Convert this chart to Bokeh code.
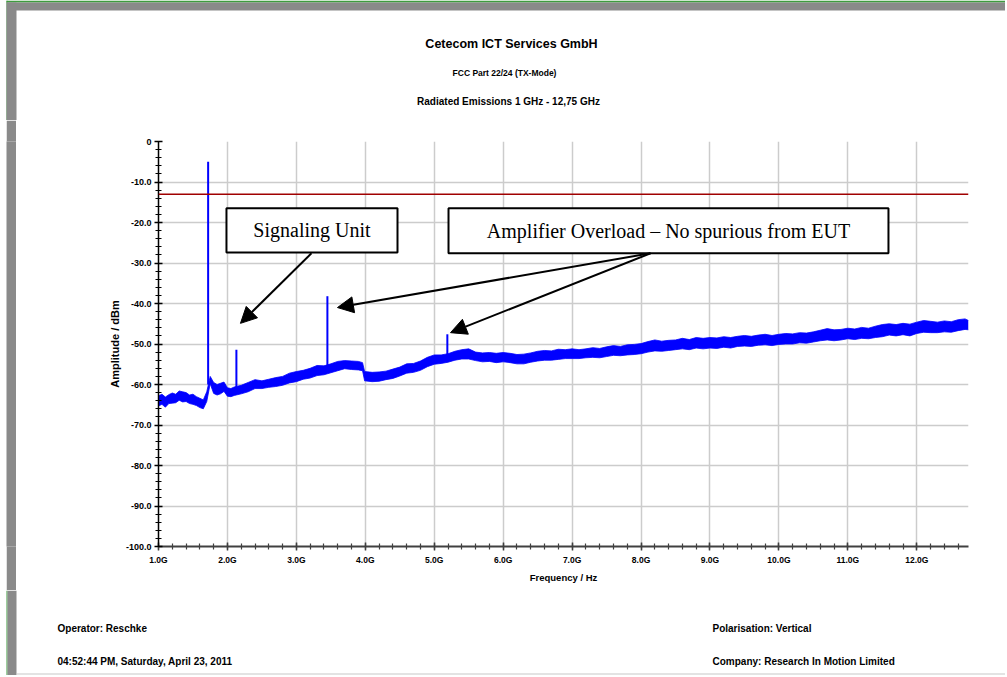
from bokeh.plotting import figure
from bokeh.layouts import column, row
from bokeh.models import (Range1d, SingleIntervalTicker, Span, Arrow, NormalHead, ColumnDataSource)
from bokeh.core.properties import value
from bokeh.embed import file_html
from bokeh.resources import INLINE

# ---------------- data ----------------
freq_ghz = [1.00, 1.05, 1.10, 1.15, 1.20, 1.25, 1.30, 1.35, 1.40, 1.45, 1.50, 1.55, 1.60, 1.65, 1.70,
            1.75, 1.80, 1.85, 1.90, 1.95, 2.00, 2.05, 2.10, 2.20, 2.30, 2.40, 2.50, 2.60, 2.70, 2.80,
            2.90, 3.00, 3.10, 3.20, 3.30, 3.40, 3.50, 3.60, 3.70, 3.80, 3.90, 3.96, 3.99, 4.10, 4.20,
            4.30, 4.40, 4.50, 4.60, 4.70, 4.80, 4.90, 5.00, 5.10, 5.20, 5.30, 5.40, 5.50, 5.60, 5.70,
            5.80, 5.90, 6.00, 6.10, 6.20, 6.30, 6.40, 6.50, 6.60, 6.70, 6.80, 6.90, 7.00, 7.10, 7.20,
            7.30, 7.40, 7.50, 7.60, 7.70, 7.80, 7.90, 8.00, 8.10, 8.20, 8.30, 8.40, 8.50, 8.60, 8.70,
            8.80, 8.90, 9.00, 9.10, 9.20, 9.30, 9.40, 9.50, 9.60, 9.70, 9.80, 9.90, 10.00, 10.10, 10.20,
            10.30, 10.40, 10.50, 10.60, 10.70, 10.80, 10.90, 11.00, 11.10, 11.20, 11.30, 11.40, 11.50,
            11.60, 11.70, 11.80, 11.90, 12.00, 12.10, 12.20, 12.30, 12.40, 12.50, 12.60, 12.70, 12.75]

level_hi = [-62.8, -62.4, -63.1, -62.5, -62.1, -62.4, -61.6, -61.8, -62.0, -62.6, -62.4, -63.0, -63.4, -63.8, -61.8,
            -58.0, -59.5, -60.0, -59.7, -59.4, -60.8, -61.0, -60.6, -60.2, -59.5, -58.8, -59.1, -58.7, -58.3, -58.0,
            -57.2, -56.8, -56.5, -56.0, -55.3, -55.4, -54.9, -54.3, -54.1, -54.2, -54.3, -54.6, -56.8, -57.0, -56.9,
            -56.7, -56.2, -55.7, -54.9, -54.8, -54.2, -53.3, -52.7, -52.7, -52.4, -51.8, -51.4, -51.2, -52.0, -52.2,
            -52.1, -52.3, -52.1, -52.3, -52.6, -52.5, -52.2, -51.8, -51.6, -51.7, -51.3, -51.4, -51.2, -51.4, -51.2,
            -50.9, -51.1, -50.7, -50.4, -50.6, -50.2, -50.1, -49.9, -49.4, -49.0, -49.3, -49.1, -49.0, -48.6, -48.9,
            -48.4, -48.6, -48.4, -48.5, -48.2, -48.4, -48.1, -47.9, -48.1, -47.8, -47.6, -47.9, -47.6, -47.4, -47.5,
            -47.2, -47.3, -47.0, -46.6, -46.2, -46.5, -46.4, -46.1, -46.3, -45.9, -46.1, -45.6, -45.2,
            -45.0, -45.2, -44.9, -45.1, -44.6, -44.2, -44.4, -44.6, -44.3, -44.5, -44.0, -43.8, -44.2]

level_lo = [-65.3, -64.9, -65.6, -64.7, -64.6, -64.5, -63.9, -64.3, -64.2, -64.7, -64.9, -65.2, -65.7, -66.0, -64.2,
            -59.8, -62.2, -62.6, -62.3, -61.7, -62.9, -63.0, -62.7, -62.3, -61.8, -61.0, -61.0, -60.7, -60.5, -60.2,
            -59.6, -59.3, -58.7, -58.4, -57.8, -57.6, -57.1, -56.6, -56.1, -56.3, -56.4, -56.6, -59.1, -59.3, -59.2,
            -58.8, -58.5, -57.9, -57.2, -57.0, -56.5, -55.6, -55.0, -54.8, -54.5, -54.0, -53.7, -53.7, -54.1, -54.4,
            -54.3, -54.6, -54.4, -54.6, -54.9, -54.9, -54.5, -54.2, -54.0, -54.0, -53.8, -53.6, -53.6, -53.6, -53.4,
            -53.3, -53.4, -53.1, -52.8, -52.9, -52.7, -52.6, -52.4, -52.0, -51.7, -51.8, -51.6, -51.4, -51.2, -51.4,
            -51.0, -51.2, -51.0, -51.1, -50.8, -51.0, -50.6, -50.5, -50.6, -50.3, -50.2, -50.4, -50.1, -50.0, -50.0,
            -49.7, -49.8, -49.5, -49.2, -49.0, -49.2, -49.0, -48.7, -48.9, -48.6, -48.7, -48.4, -48.2,
            -47.8, -48.0, -47.7, -48.0, -47.4, -47.1, -47.2, -47.2, -47.0, -47.1, -46.7, -46.4, -46.5]

spike_freq = [1.72, 2.13, 3.45, 5.19]
spike_peak = [-5.0, -51.4, -38.2, -47.6]
spike_base = [-60.0, -61.5, -56.5, -54.0]

limit_dbm = -13.0

x_tick_vals = [1, 2, 3, 4, 5, 6, 7, 8, 9, 10, 11, 12]
x_tick_labels = ["1.0G", "2.0G", "3.0G", "4.0G", "5.0G", "6.0G", "7.0G", "8.0G", "9.0G", "10.0G", "11.0G", "12.0G"]
y_tick_vals = [0, -10, -20, -30, -40, -50, -60, -70, -80, -90, -100]
y_tick_labels = ["0", "-10.0", "-20.0", "-30.0", "-40.0", "-50.0", "-60.0", "-70.0", "-80.0", "-90.0", "-100.0"]

box_texts = ["Signaling Unit", "Amplifier Overload \u2013 No spurious from EUT"]
box_left = [1.986, 5.207]
box_right = [4.467, 11.589]
box_top = [-16.5, -16.5]
box_bottom = [-27.4, -27.6]

arrow_x0 = [3.219, 8.137, 8.137]
arrow_y0 = [-27.6, -27.6, -27.6]
arrow_x1 = [2.189, 3.596, 5.236]
arrow_y1 = [-44.9, -41.0, -47.2]

title_lines = ["Cetecom ICT Services GmbH", "FCC Part 22/24 (TX-Mode)", "Radiated Emissions 1 GHz - 12,75 GHz"]
footer_left = ["Operator: Reschke", "04:52:44 PM, Saturday, April 23, 2011"]
footer_right = ["Polarisation: Vertical", "Company: Research In Motion Limited"]

FONT = "Liberation Sans"
GREEN = "#3f9b3f"
GREY = "#8a8a8a"


def blank_fig(w, h, top=0, bottom=0, fill="white", **kw):
    f = figure(width=w, height=h, x_range=Range1d(0, w), y_range=Range1d(h - top - bottom, 0),
               output_backend="svg", toolbar_location=None, min_border=0,
               min_border_top=top, min_border_bottom=bottom, **kw)
    f.axis.visible = False
    f.grid.visible = False
    f.outline_line_color = None
    f.background_fill_color = fill
    f.border_fill_color = fill
    return f


TOTAL_W = 1005
HEAD_H = 120
MAIN_H = 470
FOOT_H = 85
TOP_B = 21
BOT_B = 44

# ---------------- header ----------------
head = blank_fig(TOTAL_W, HEAD_H)
head.quad(left=[6, 6, 6], right=[TOTAL_W, 7, 16], top=[0, 0, 2], bottom=[2, HEAD_H, HEAD_H],
          fill_color=[GREEN, GREEN, GREY], line_color=None)
head.quad(left=[7], right=[TOTAL_W], top=[2], bottom=[10], fill_color=GREY, line_color=None)
head.text(x=[511, 504, 508], y=[43, 72, 101], text=title_lines,
          text_font_size=["12.5px", "8.5px", "10px"],
          text_align="center", text_baseline="middle",
          text_font=value(FONT), text_font_style="bold", text_color="black")

# ---------------- left strip (solid grey, offset by a 6px margin) ----------------
strip = blank_fig(10, MAIN_H, top=TOP_B, bottom=BOT_B, fill=GREY, margin=(0, 0, 0, 6))

# ---------------- main chart ----------------
MAIN_W = TOTAL_W - 16
p = figure(width=MAIN_W, height=MAIN_H, x_range=Range1d(1.0, 12.75), y_range=Range1d(-100, 0),
           output_backend="svg", toolbar_location=None,
           min_border_left=142, min_border_right=MAIN_W - 142 - 810, min_border_top=TOP_B, min_border_bottom=BOT_B)
p.outline_line_color = None
p.background_fill_color = "white"
p.border_fill_color = "white"

p.xaxis.ticker = SingleIntervalTicker(interval=1, num_minor_ticks=5)
p.yaxis.ticker = SingleIntervalTicker(interval=10, num_minor_ticks=5)
p.xaxis.major_label_overrides = dict(zip(x_tick_vals, x_tick_labels))
p.yaxis.major_label_overrides = dict(zip(y_tick_vals, y_tick_labels))

for ax, col, lw in ((p.xaxis, "#404040", 2), (p.yaxis, "#000000", 1.5)):
    ax.axis_line_color = col
    ax.axis_line_width = lw
    ax.major_tick_line_color = col
    ax.minor_tick_line_color = col
    ax.major_tick_line_width = 1.5
    ax.minor_tick_line_width = 1.2
    ax.major_tick_in = 4
    ax.major_tick_out = 4
    ax.minor_tick_in = 3
    ax.minor_tick_out = 3
    ax.major_label_text_font = FONT
    ax.major_label_text_font_style = "bold"
    ax.major_label_text_color = "black"
    ax.axis_label_text_font = FONT
    ax.axis_label_text_font_style = "bold"
    ax.axis_label_text_color = "black"

p.xaxis.major_label_text_font_size = "8.5px"
p.yaxis.major_label_text_font_size = "9px"
p.xaxis.axis_label = "Frequency / Hz"
p.xaxis.axis_label_text_font_size = "9.5px"
p.xaxis.axis_label_standoff = 4
p.xaxis.major_label_standoff = 4
p.yaxis.axis_label = "Amplitude / dBm"
p.yaxis.axis_label_text_font_size = "11px"
p.yaxis.axis_label_standoff = 2
p.yaxis.major_label_standoff = 3

p.xgrid.grid_line_color = "#cccccc"
p.ygrid.grid_line_color = "#cccccc"
p.xgrid.grid_line_width = 1.5
p.ygrid.grid_line_width = 1.5

src = ColumnDataSource(dict(f=freq_ghz, hi=level_hi, lo=level_lo))
p.varea(x="f", y1="lo", y2="hi", source=src, fill_color="#0000ff")
p.line(x="f", y="hi", source=src, line_color="#0000ff", line_width=0.8)
p.line(x="f", y="lo", source=src, line_color="#0000ff", line_width=0.8)
p.segment(x0=spike_freq, y0=spike_base, x1=spike_freq, y1=spike_peak, line_color="#0000ff", line_width=2)

p.add_layout(Span(location=limit_dbm, dimension="width", line_color="#a00000", line_width=1.5))

p.quad(left=box_left, right=box_right, top=box_top, bottom=box_bottom,
       fill_color="white", line_color="black", line_width=2)
p.text(x=[(a + b) / 2 for a, b in zip(box_left, box_right)],
       y=[(a + b) / 2 for a, b in zip(box_top, box_bottom)],
       text=box_texts, text_align="center", text_baseline="middle",
       text_font=value("Liberation Serif"), text_font_size="20px", text_color="black")

for xs, ys, xe, ye in zip(arrow_x0, arrow_y0, arrow_x1, arrow_y1):
    p.add_layout(Arrow(end=NormalHead(size=16, fill_color="black", line_color="black"),
                       x_start=xs, y_start=ys, x_end=xe, y_end=ye,
                       line_color="black", line_width=2))

# ---------------- footer ----------------
foot = blank_fig(TOTAL_W, FOOT_H)
foot.quad(left=[6, 7], right=[7, 16], top=[0, 0], bottom=[FOOT_H, FOOT_H],
          fill_color=[GREEN, GREY], line_color=None)
foot.quad(left=[16], right=[TOTAL_W], top=[FOOT_H - 2], bottom=[FOOT_H - 1], fill_color="#c8c8c8", line_color=None)
foot.text(x=[57, 57, 712, 712], y=[38, 71, 38, 71],
          text=footer_left + footer_right,
          text_align="left", text_baseline="middle",
          text_font=value(FONT), text_font_style="bold", text_font_size="10px", text_color="black")

layout = column(head, row(strip, p, spacing=0), foot, spacing=0)
open("out.html", "w").write(file_html(layout, INLINE))
